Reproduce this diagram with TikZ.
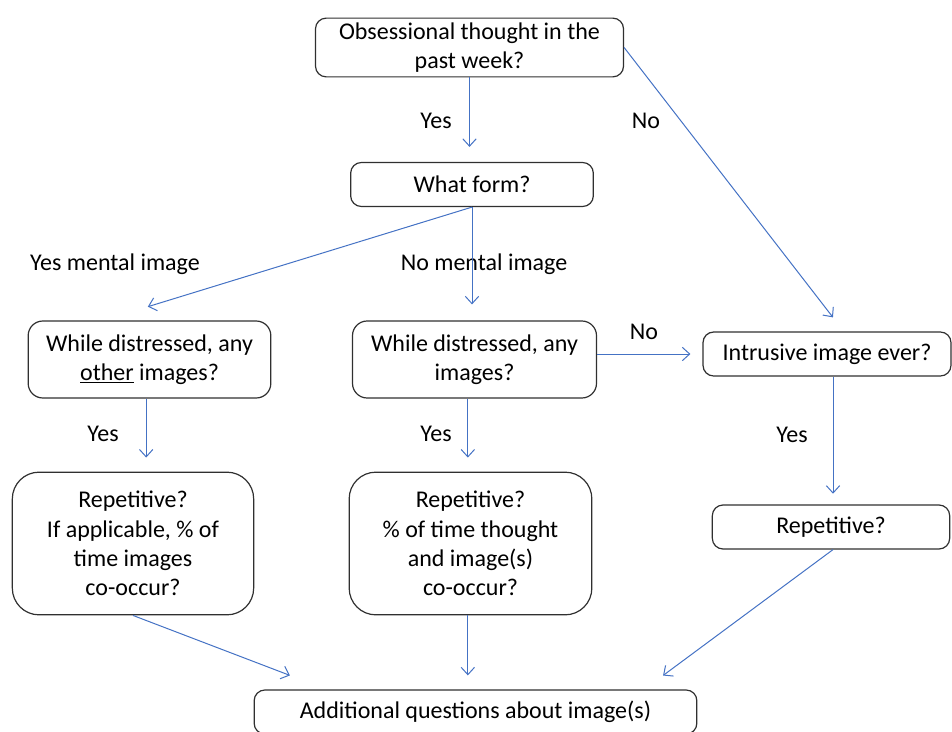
\documentclass[tikz,border=0pt]{standalone}
\usepackage{fontspec}
\setmainfont{Carlito}
\usepackage{tikz}
\usepackage{xcolor}
\usetikzlibrary{positioning,calc,arrows.meta}
\definecolor{lineblue}{HTML}{4472C4}
\definecolor{boxgray}{HTML}{303030}
\newcommand{\bnode}[5][box]{\node [#1, minimum width=#4pt] (#2) at (#3) {#5}}

\begin{document}
\begin{tikzpicture}[x=0.75pt,y=-0.75pt,
  font=\fontsize{18}{22}\selectfont,
  box/.style={draw=boxgray, line width=0.9pt, rounded corners=8pt, align=center, minimum height=33pt},
  tall/.style={box, minimum height=57.75pt, rounded corners=11pt},
  big/.style={box, minimum height=107pt, rounded corners=20pt},
  arr/.style={draw=lineblue, line width=0.75pt, -{Straight Barb[length=5.5pt,width=10pt]}, shorten >=10.5pt}]
\useasboundingbox (0,0) rectangle (952,731);

\bnode{TOP}{469.5,47.5}{231}{Obsessional thought in the\\past week?};
\bnode{FORM}{472,184.5}{182}{What form?};
\bnode[tall]{OTHER}{149.5,359.5}{182}{While distressed, any\\\underline{other} images?};
\bnode[tall]{ANY}{474.5,359.5}{183}{While distressed, any\\images?};
\bnode{INTR}{827,354}{186}{Intrusive image ever?};
\bnode[big]{REPL}{133,543.5}{181}{Repetitive?\\If applicable, \% of\\time images\\co-occur?};
\bnode[big]{REPM}{470.5,543.5}{182}{Repetitive?\\\% of time thought\\and image(s)\\co-occur?};
\bnode{REPR}{831,527}{178}{Repetitive?};
\bnode{ADD}{475.5,712}{332}{Additional questions about image(s)};

\node (YES1) at (436,121) {Yes};
\node (NO1) at (646,121) {No};
\node (YESIM) at (115,264) {Yes mental image};
\node (NOIM) at (484,264) {No mental image};
\node (NO2) at (644,332) {No};
\node (YES2) at (103,434) {Yes};
\node (YES3) at (436,434) {Yes};
\node (YES4) at (792,435) {Yes};

\draw[arr, shorten >=11.25pt] (TOP.south) -- (TOP.south |- FORM.north);
\draw[arr, shorten >=13.3pt] (TOP.east) -- ([xshift=12.6pt]INTR.north);
\draw[arr, shorten >=35pt] (FORM.south) -- ([xshift=-34.7pt]OTHER.north);
\draw[arr, shorten >=12pt] (FORM.south) -- (FORM.south |- ANY.north);
\draw[arr, shorten >=9pt] (ANY.east |- INTR.west) -- (INTR.west);
\draw[arr] ([xshift=-2.5pt]OTHER.south) -- ([xshift=-2.5pt]OTHER.south |- REPL.north);
\draw[arr] ([xshift=-5pt]ANY.south) -- ([xshift=-5pt]ANY.south |- REPM.north);
\draw[arr, shorten >=8pt] ([xshift=4.5pt]INTR.south) -- ([xshift=4.5pt]INTR.south |- REPR.north);
\draw[arr, shorten >=29.4pt] (REPL.south) -- ([xshift=-111.7pt]ADD.north);
\draw[arr] ([xshift=-2pt]REPM.south) -- ([xshift=-2pt]REPM.south |- ADD.north);
\draw[arr, shorten >=17.5pt] ([xshift=1.5pt]REPR.south) -- ([xshift=126.6pt]ADD.north);

\end{tikzpicture}
\end{document}
